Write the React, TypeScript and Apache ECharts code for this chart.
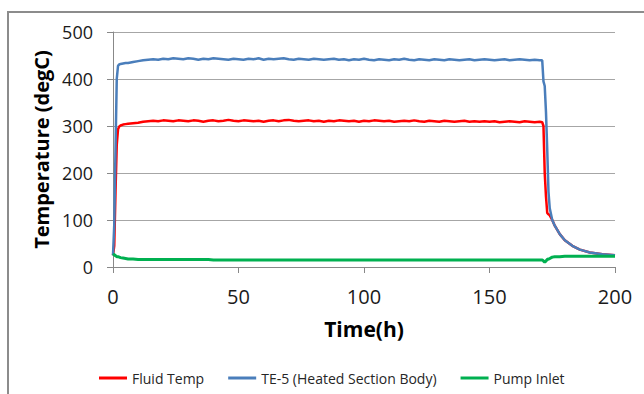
import React, { useEffect, useRef } from "react";
import * as echarts from "echarts";

const times = [
  0, 0.5, 1, 1.5, 2, 2.5, 3, 4, 5, 6,
  8, 10, 12, 14, 16, 18, 20, 22, 24, 26,
  28, 30, 32, 34, 36, 38, 40, 42, 44, 46,
  48, 50, 52, 54, 56, 58, 60, 62, 64, 66,
  68, 70, 72, 74, 76, 78, 80, 82, 84, 86,
  88, 90, 92, 94, 96, 98, 100, 102, 104, 106,
  108, 110, 112, 114, 116, 118, 120, 122, 124, 126,
  128, 130, 132, 134, 136, 138, 140, 142, 144, 146,
  148, 150, 152, 154, 156, 158, 160, 162, 164, 166,
  168, 170,
  171, 171.5, 172, 172.5, 173, 173.5, 174, 175, 176, 178, 180, 183, 186, 190, 195, 200,
];

const fluidTemp = [
  25, 45, 160, 260, 293, 299, 301, 303, 304, 305,
  306, 307, 309, 310, 311, 310, 312, 311, 310, 312,
  311, 310, 312, 311, 309, 311, 312, 310, 311, 313,
  311, 310, 312, 311, 310, 311, 309, 311, 312, 310,
  312, 313, 311, 310, 311, 312, 310, 311, 309, 311,
  310, 312, 311, 310, 311, 309, 311, 310, 312, 311,
  310, 311, 309, 310, 311, 310, 312, 310, 309, 311,
  310, 309, 311, 310, 309, 310, 311, 309, 310, 309,
  310, 309, 310, 308, 309, 310, 309, 308, 310, 309,
  308, 309,
  308, 300, 200, 150, 115, 112, 110, 100, 88, 70, 57, 45, 37, 31, 27, 25,
];

const te5 = [
  25, 90, 250, 400, 428, 431, 432, 433, 434, 434,
  436, 438, 440, 441, 442, 441, 443, 442, 444, 443,
  442, 444, 443, 441, 443, 442, 444, 443, 442, 441,
  443, 442, 441, 443, 442, 444, 441, 443, 442, 443,
  444, 442, 441, 443, 442, 441, 443, 442, 441, 442,
  443, 441, 442, 440, 442, 441, 443, 441, 440, 442,
  441, 440, 442, 441, 443, 441, 440, 442, 441, 440,
  442, 441, 440, 442, 441, 440, 441, 442, 440, 441,
  442, 441, 440, 441, 442, 440, 441, 442, 441, 440,
  441, 440,
  440, 395, 385, 330, 250, 160, 125, 100, 88, 70, 57, 45, 37, 31, 27, 25,
];

const pumpInlet = [
  28, 26, 24, 22, 22, 21, 20, 19, 18, 17,
  17, 16, 16, 16, 16, 16, 16, 16, 16, 16,
  16, 16, 16, 16, 16, 16, 15, 15, 15, 15,
  15, 15, 15, 15, 15, 15, 15, 15, 15, 15,
  15, 15, 15, 15, 15, 15, 15, 15, 15, 15,
  15, 15, 15, 15, 15, 15, 15, 15, 15, 15,
  15, 15, 15, 15, 15, 15, 15, 15, 15, 15,
  15, 15, 15, 15, 15, 15, 15, 15, 15, 15,
  15, 15, 15, 15, 15, 15, 15, 15, 15, 15,
  15, 15,
  15, 13, 10, 13, 16, 17, 18, 21, 22, 22, 23, 23, 23, 23, 23, 23,
];

const seriesNames = ["Fluid Temp", "TE-5 (Heated Section Body)", "Pump Inlet"];
const seriesColors = ["#ff0000", "#4a7ebb", "#00b050"];
const seriesValues = [fluidTemp, te5, pumpInlet];

const FONT = "'Open Sans', Lato, sans-serif";

export default function App() {
  const ref = useRef<HTMLDivElement>(null);
  useEffect(() => {
    if (!ref.current) return;
    const chart = echarts.init(ref.current, null, { renderer: "svg" });
    chart.setOption({
      animation: false,
      backgroundColor: "#ffffff",
      textStyle: { fontFamily: FONT },
      graphic: [
        {
          type: "rect",
          shape: { x: 8, y: 12, width: 700, height: 500 },
          style: { fill: "none", stroke: "#8c8c8c", lineWidth: 2 },
          silent: true,
        },
      ],
      grid: { left: 113, right: 29, top: 32, bottom: 127 },
      legend: {
        left: 94,
        top: 366,
        itemWidth: 28,
        itemHeight: 3,
        itemGap: 24,
        icon: "rect",
        textStyle: { fontFamily: FONT, fontSize: 14, color: "#262626" },
        data: seriesNames,
      },
      xAxis: {
        type: "value",
        min: 0,
        max: 200,
        interval: 50,
        name: "Time(h)",
        nameLocation: "middle",
        nameGap: 51,
        nameTextStyle: { fontFamily: FONT, fontSize: 21, fontWeight: "bold", color: "#000" },
        axisLine: { show: true, lineStyle: { color: "#888888", width: 1 } },
        axisTick: { show: true, length: 6, lineStyle: { color: "#888888" } },
        axisLabel: { fontFamily: FONT, fontSize: 20, color: "#1a1a1a", margin: 19 },
        splitLine: { show: false },
      },
      yAxis: {
        type: "value",
        min: 0,
        max: 500,
        interval: 100,
        name: "Temperature (degC)",
        nameLocation: "middle",
        nameGap: 60,
        nameTextStyle: { fontFamily: FONT, fontSize: 20, fontWeight: "bold", color: "#000" },
        axisLine: { show: true, lineStyle: { color: "#888888", width: 1 } },
        axisTick: { show: true, length: 6, lineStyle: { color: "#888888" } },
        axisLabel: { fontFamily: FONT, fontSize: 18, color: "#1a1a1a", margin: 20 },
        splitLine: { show: true, lineStyle: { color: "#a6a6a6", width: 1 } },
      },
      series: seriesNames.map((name, i) => ({
        name,
        type: "line",
        symbol: "none",
        color: seriesColors[i],
        lineStyle: { color: seriesColors[i], width: i === 2 ? 3 : 2.5 },
        data: times.map((t, j) => [t, seriesValues[i][j]]),
      })),
    });
    return () => chart.dispose();
  }, []);
  return (
    <div
      ref={ref}
      style={{ position: "absolute", left: 0, top: 0, width: 644, height: 394 }}
    />
  );
}
